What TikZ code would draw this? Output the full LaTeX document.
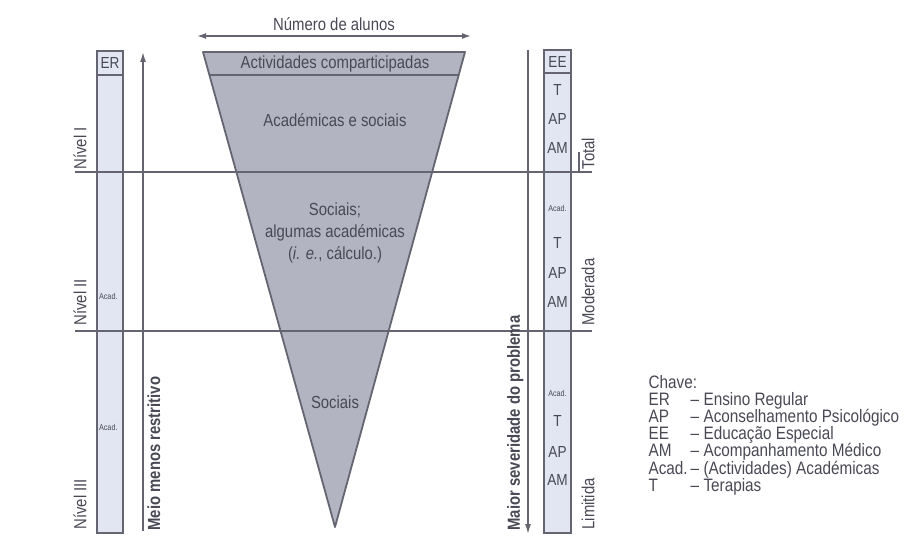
\documentclass[tikz,border=0pt]{standalone}
\usepackage{fontspec}
\setmainfont{Liberation Sans}[FakeStretch=0.85]
\usepackage{tikz}
\usetikzlibrary{arrows.meta}
\usetikzlibrary{positioning}

\definecolor{linegray}{RGB}{100,101,112}
\definecolor{txtgray}{RGB}{72,73,84}
\definecolor{funnelgray}{RGB}{178,181,193}
\definecolor{colfill}{RGB}{226,229,242}

\begin{document}
\begin{tikzpicture}[x=1pt, y=-1pt, draw=linegray, text=txtgray, line width=1.1pt,
    big/.style={font=\fontsize{17.5}{22}\selectfont},
    colab/.style={font=\fontsize{16}{18}\selectfont, inner sep=0pt},
    tiny/.style={font=\fontsize{8.5}{9}\selectfont, inner sep=0pt},
    side/.style={font=\fontsize{17.5}{19}\selectfont, rotate=90, anchor=west, inner sep=0pt},
    axislab/.style={font=\fontsize{17.5}{19}\bfseries\selectfont, rotate=90, inner sep=0pt},
    keytext/.style={font=\fontsize{18}{20}\selectfont, anchor=base west, inner sep=0pt}]
  \useasboundingbox (0,0) rectangle (912,537);

  \coordinate (A) at (203,52);
  \coordinate (B) at (465,52);
  \coordinate (V) at (335,527);

  % funnel
  \draw [fill=funnelgray, line width=1.8pt, line join=round] (A) -- (B) -- (V) -- cycle;
  \begin{scope}
    \clip (A) -- (B) -- (V) -- cycle;
    \draw (190,75) -- (480,75);
  \end{scope}

  \node [big] (act) at (335,64) {Actividades comparticipadas};
  \node [big] (acsoc) at (335,120) {Académicas e sociais};
  \node [big, align=center] (socalg) at (335,233)
    {Sociais;\\algumas académicas\\(\textit{i. e.}, cálculo.)};
  \node [big] (soc) at (335,402) {Sociais};

  % number of pupils
  \coordinate (NL) at (197,36);
  \coordinate (NR) at (471,36);
  \draw [{Latex[length=9pt,width=6pt]}-{Latex[length=9pt,width=6pt]}, line width=1.5pt] (NL) -- (NR)
    node [big, midway, above=1pt] (nalunos) {Número de alunos};

  % columns
  \draw [fill=colfill] (97,51) rectangle (123,533);
  \draw (97,75) -- (123,75);
  \draw [fill=colfill] (544,50) rectangle (571,533);
  \draw (544,73) -- (571,73);

  % levels
  \draw (75,172) -- (592,172) (579,172) -- (579,152);
  \draw (75,331) -- (592,331);

  % left axis
  \coordinate (L0) at (143,531);
  \coordinate (L1) at (143,52);
  \draw [-{Latex[length=10pt,width=6pt]}, line width=1.5pt] (L0) -- (L1);
  \node [axislab, anchor=north west] (menos) at (147,531) {Meio menos restritivo};

  % right axis
  \coordinate (R0) at (528,50);
  \coordinate (R1) at (528,534);
  \draw [-{Latex[length=10pt,width=6pt]}, line width=1.5pt] (R0) -- (R1);
  \node [axislab, anchor=south west] (maior) at (524,531) {Maior severidade do problema};

  \node [colab] (er) at (110,63) {ER};
  \node [tiny, anchor=west] (acl1) at (98.5,296) {Acad.};
  \node [tiny, anchor=west] (acl2) at (98.5,427) {Acad.};

  \node [colab] (ee) at (557.5,62) {EE};
  \foreach \t/\y [count=\i] in {T/90, AP/119, AM/148, T/243, AP/273, AM/302, T/421, AP/452, AM/480}
    \node [colab] (rc\i) at (557.5,\y) {\t};
  \node [tiny] (acr1) at (557.5,208) {Acad.};
  \node [tiny] (acr2) at (557.5,393) {Acad.};

  \node [side] (n1) at (80,170) {Nível I};
  \node [side] (n2) at (80,326) {Nível II};
  \node [side] (n3) at (80,530) {Nível III};
  \node [side] (tot) at (588,170) {Total};
  \node [side] (mod) at (588,326) {Moderada};
  \node [side] (lim) at (588,530) {Limitida};

  % key
  \node [keytext] (chave) at (648,388) {Chave:};
  \foreach \a/\b [count=\i] in {ER/Ensino Regular, AP/Aconselhamento Psicológico,
      EE/Educação Especial, AM/Acompanhamento Médico,
      Acad./(Actividades) Académicas, T/Terapias} {
    \node [keytext] (ka\i) at (648,388+17.2*\i) {\a};
    \node [keytext] (kd\i) at (690,388+17.2*\i) {--};
    \node [keytext] (kb\i) at (703,388+17.2*\i) {\b};
  }
\end{tikzpicture}
\end{document}
